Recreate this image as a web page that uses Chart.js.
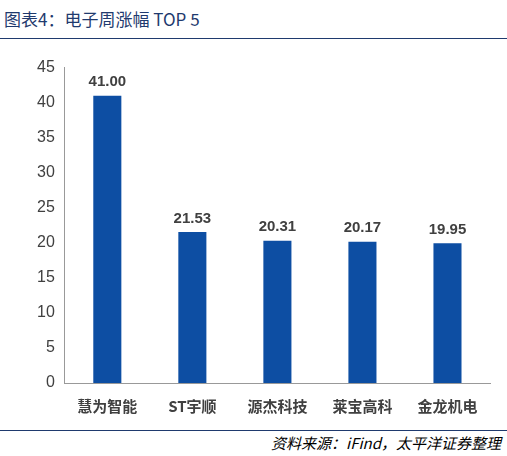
<!DOCTYPE html><html><head><meta charset="utf-8">
<script src="https://cdn.jsdelivr.net/npm/chart.js"></script>
<style>body{margin:0;width:507px;height:456px;position:relative;background:#fff;font-family:"Noto Sans CJK SC";}
#t{position:absolute;left:4px;top:6px;font-size:17px;color:#1f3a6e;}
#l1{position:absolute;left:0;top:38px;width:507px;height:1px;background:#1f3a6e;}
#l2{position:absolute;left:0;top:430px;width:507px;height:1px;background:#1f3a6e;}
#f{position:absolute;right:6px;top:432px;font-size:15px;font-style:italic;color:#000;}
#c{position:absolute;left:0;top:48px;}</style></head><body>
<div id="t">图表4：电子周涨幅 TOP 5</div><div id="l1"></div>
<div id="c"><canvas id="cv" width="507" height="373"></canvas></div>
<div id="l2"></div><div id="f">资料来源：iFind，太平洋证券整理</div>
<script>
const categories=["慧为智能","ST宇顺","源杰科技","莱宝高科","金龙机电"];
const values=[41.00,21.53,20.31,20.17,19.95];
const labelPlugin={id:'lab',afterDatasetsDraw(ch){const c=ch.ctx;const m=ch.getDatasetMeta(0);c.save();c.font='bold 15px "Liberation Sans"';c.fillStyle='#404040';c.textAlign='center';c.textBaseline='bottom';m.data.forEach((b,i)=>c.fillText(values[i].toFixed(2),b.x,b.y-6));c.restore();}};
new Chart(document.getElementById('cv'),{type:'bar',data:{labels:categories,datasets:[{data:values,backgroundColor:'#0d4ea3',barPercentage:0.33,categoryPercentage:1}]},
options:{responsive:false,animation:false,layout:{padding:{top:7,right:17,left:27}},plugins:{legend:{display:false},tooltip:{enabled:false}},
scales:{y:{min:0,max:45,ticks:{stepSize:5,color:'#404040',font:{size:16,family:'Liberation Sans'},padding:10},grid:{display:false,drawTicks:false},border:{color:'#999'}},
x:{ticks:{color:'#404040',font:{size:15,family:'Noto Sans CJK SC',weight:'bold'},padding:6},grid:{display:false},border:{color:'#999'}}}},plugins:[labelPlugin]});
</script></body></html>
